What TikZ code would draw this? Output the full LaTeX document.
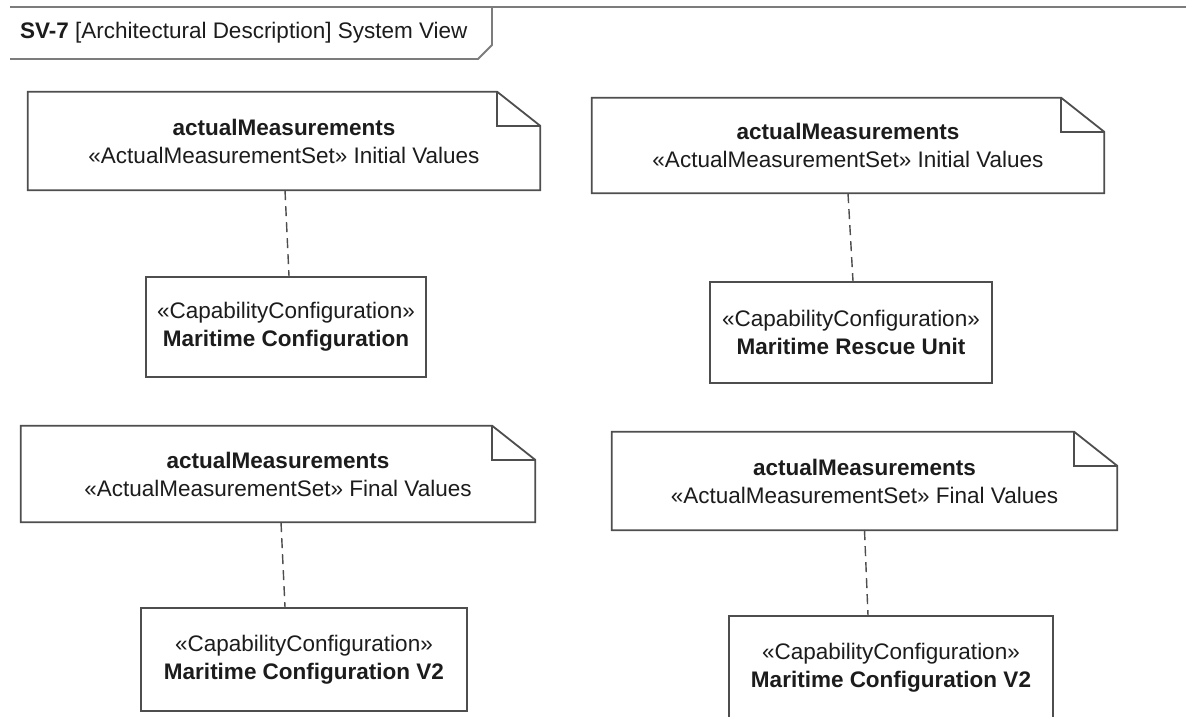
\documentclass[tikz,border=0pt]{standalone}
\usepackage{fontspec}
\setmainfont{Liberation Sans}
\definecolor{linec}{HTML}{4E4E4E}
\definecolor{textc}{HTML}{1C1C1C}
\definecolor{framec}{HTML}{7C7C7C}
\newcommand{\drawnotefold}[1]{%
  \draw[noteline] (#1.north west) -- ([xshift=-43pt]#1.north east) -- ([yshift=-34pt]#1.north east) -- (#1.south east) -- (#1.south west) -- cycle;
  \draw[noteline] ([xshift=-43pt]#1.north east) |- ([yshift=-34pt]#1.north east);}
\begin{document}
\begin{tikzpicture}[x=1pt,y=-1pt,
  every node/.style={font=\fontsize{22.5}{28}\selectfont, text=textc, align=center, inner sep=0pt},
  notebox/.style={rectangle, fill=white},
  umlbox/.style={rectangle, draw=linec, line width=1.6pt, fill=white},
  noteline/.style={draw=linec, line width=1.8pt, line join=miter},
  dashline/.style={draw=linec, line width=1.4pt, dash pattern=on 10pt off 6pt},
  frameline/.style={draw=framec, line width=1.8pt}]
\useasboundingbox (0,0) rectangle (1186,717);
\clip (0,0) rectangle (1186,717);
\fill[white] (0,0) rectangle (1186,717);
% frame header
\draw[frameline] (10,7) -- (1186,7);
\draw[frameline] (10,59) -- (478,59) -- (492,45) -- (492,7);
\node[anchor=west] (title) at (20,33) {\textbf{SV-7} [Architectural Description] System View};
% notes
\node[notebox, minimum width=512pt, minimum height=98pt] (n1) at (284,141) {\textbf{actualMeasurements}\\«ActualMeasurementSet» Initial Values};
\drawnotefold{n1}
\node[notebox, minimum width=512pt, minimum height=95pt] (n2) at (848,145.5) {\textbf{actualMeasurements}\\«ActualMeasurementSet» Initial Values};
\drawnotefold{n2}
\node[notebox, minimum width=514pt, minimum height=96pt] (n3) at (278,474) {\textbf{actualMeasurements}\\«ActualMeasurementSet» Final Values};
\drawnotefold{n3}
\node[notebox, minimum width=505pt, minimum height=98pt] (n4) at (864.5,481) {\textbf{actualMeasurements}\\«ActualMeasurementSet» Final Values};
\drawnotefold{n4}
% capability configurations
\node[umlbox, minimum width=280pt, minimum height=100pt] (b1) at (286,327) {«CapabilityConfiguration»\\\textbf{Maritime Configuration}};
\node[umlbox, minimum width=282pt, minimum height=101pt] (b2) at (851,332.5) {«CapabilityConfiguration»\\\textbf{Maritime Rescue Unit}};
\node[umlbox, minimum width=326pt, minimum height=103pt] (b3) at (304,659.5) {«CapabilityConfiguration»\\\textbf{Maritime Configuration V2}};
\node[umlbox, minimum width=324pt, minimum height=103pt] (b4) at (891,667.5) {«CapabilityConfiguration»\\\textbf{Maritime Configuration V2}};
% anchors
\draw[dashline] ([xshift=1pt]n1.south) -- ([xshift=3pt]b1.north);
\draw[dashline] (n2.south) -- ([xshift=2pt]b2.north);
\draw[dashline] ([xshift=3pt]n3.south) -- ([xshift=-19pt]b3.north);
\draw[dashline] (n4.south) -- ([xshift=-23pt]b4.north);
\end{tikzpicture}
\end{document}
